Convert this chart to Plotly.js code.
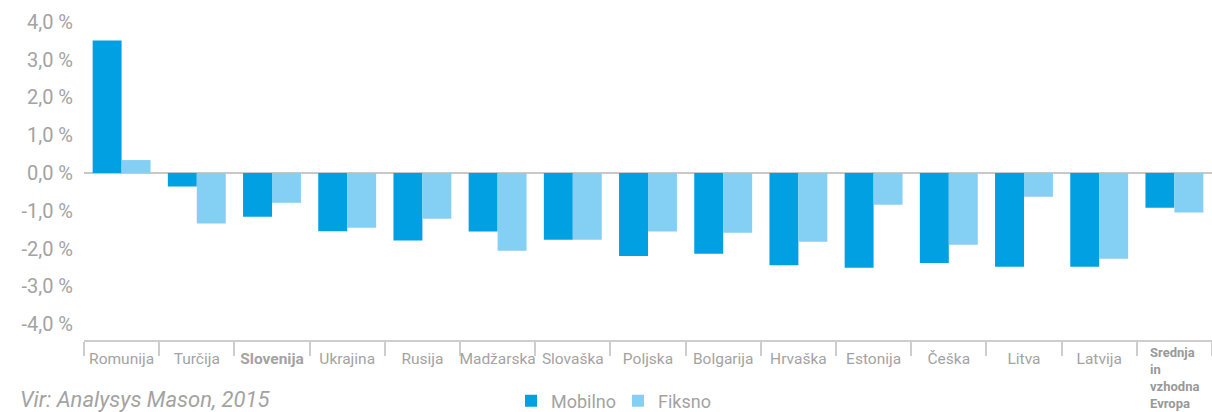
<!DOCTYPE html>
<html>
<head>
<meta charset="utf-8">
<script src="https://cdn.plot.ly/plotly-3.0.1.min.js"></script>
<style>html,body{margin:0;padding:0;background:#fff;}</style>
</head>
<body>
<div id="chart" style="width:1212px;height:412px;"></div>
<script>
const categories = ["Romunija","Turčija","Slovenija","Ukrajina","Rusija","Madžarska","Slovaška","Poljska","Bolgarija","Hrvaška","Estonija","Češka","Litva","Latvija","Srednja in vzhodna Evropa"];
const tickLabels = ["Romunija","Turčija","<b>Slovenija</b>","Ukrajina","Rusija","Madžarska","Slovaška","Poljska","Bolgarija","Hrvaška","Estonija","Češka","Litva","Latvija",""];
const lastLabel = "<b>Srednja<br>in<br>vzhodna<br>Evropa</b>";
const mobilno = [3.50,-0.36,-1.16,-1.54,-1.79,-1.55,-1.77,-2.20,-2.14,-2.44,-2.51,-2.38,-2.48,-2.48,-0.92];
const fiksno  = [0.34,-1.34,-0.79,-1.45,-1.21,-2.06,-1.77,-1.55,-1.58,-1.82,-0.84,-1.90,-0.63,-2.27,-1.05];
const yTicks = [4,3,2,1,0,-1,-2,-3,-4];
const yTickLabels = ["4,0 %","3,0 %","2,0 %","1,0 %","0,0 %","-1,0 %","-2,0 %","-3,0 %","-4,0 %"];
const seriesNames = ["Mobilno","Fiksno"];
const source = "Vir: Analysys Mason, 2015";

const FONT = "Roboto, 'DejaVu Sans Condensed', sans-serif";
const GREY = "#a3a3a3";

const data = [
  {type:"bar", name:seriesNames[0], x:categories, y:mobilno, marker:{color:"#00a0e2", line:{width:0}}},
  {type:"bar", name:seriesNames[1], x:categories, y:fiksno, marker:{color:"#84cff4", line:{width:0}}}
];

const layout = {
  width:1212, height:412,
  margin:{l:84, r:0, t:12, b:72, autoexpand:false},
  paper_bgcolor:"#fff", plot_bgcolor:"#fff",
  barmode:"group", bargap:0.23, bargroupgap:0,
  font:{family:FONT, color:GREY},
  showlegend:true,
  legend:{orientation:"h", xref:"container", yref:"container",
          x:511/1212, xanchor:"left", y:1-401/412, yanchor:"middle",
          font:{size:18, color:GREY}, itemwidth:30, entrywidth:62, entrywidthmode:"pixels",
          bgcolor:"rgba(0,0,0,0)"},
  xaxis:{
    type:"category", tickmode:"array", tickvals:categories, ticktext:tickLabels,
    tickson:"boundaries", ticks:"outside", ticklen:14, tickwidth:2, tickcolor:"#cdcdcd",
    showline:true, linecolor:"#cdcdcd", linewidth:2, showgrid:false, zeroline:false,
    tickfont:{size:15.5, color:GREY}, ticklabelstandoff:3, tickangle:0,
    range:[-0.5, 14.5]
  },
  yaxis:{
    range:[-4.42, 4.257], tickmode:"array", tickvals:yTicks, ticktext:yTickLabels,
    showgrid:false, zeroline:true, zerolinecolor:"#c8c8c8", zerolinewidth:2,
    showline:false, ticks:"", tickfont:{size:20, color:GREY}, ticklabelstandoff:10
  },
  annotations:[
    {xref:"paper", yref:"paper", x:(18-84)/1128, y:-0.18, xanchor:"left", yanchor:"middle",
     text:source, showarrow:false, font:{size:22, color:GREY, style:"italic", family:FONT}},
    {xref:"x", yref:"paper", x:categories[14], xshift:-26, y:-0.01, xanchor:"left", yanchor:"top",
     text:lastLabel, align:"left", showarrow:false, font:{size:13, color:"#999"}}
  ]
};

Plotly.newPlot("chart", data, layout, {displayModeBar:false, staticPlot:true});
</script>
</body>
</html>
